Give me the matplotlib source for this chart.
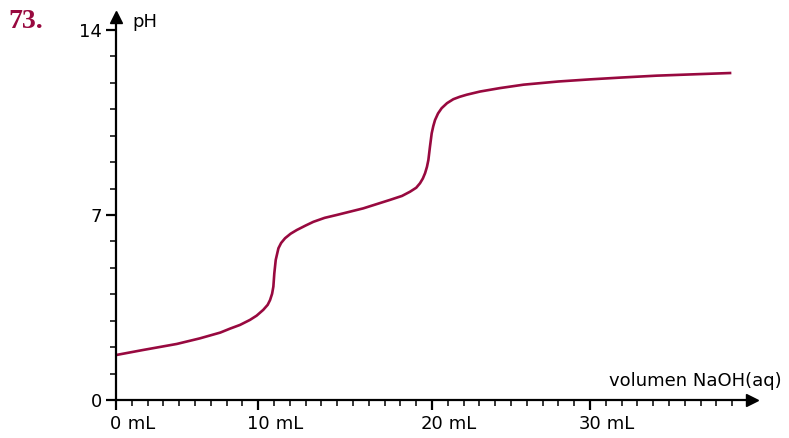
import matplotlib.pyplot as plt
from matplotlib.ticker import FixedLocator

# Curva de valoración: volumen de NaOH añadido (mL) y pH
volumen = [0, 1.7, 3.85, 5.3, 6.6, 7.22, 7.85, 8.48, 8.9, 9.32, 9.6, 9.75,
           9.88, 9.96, 10.02, 10.11, 10.28, 10.45, 10.7, 11.05, 11.44, 12.0,
           12.49, 13.2, 13.97, 15.65, 17.34, 18.1, 18.61, 19.0, 19.24, 19.42,
           19.56, 19.68, 19.77, 19.87, 19.98, 20.08, 20.19, 20.38, 20.61,
           20.95, 21.35, 21.75, 22.2, 23.04, 24.3, 25.8, 28.0, 30.0, 32.0,
           34.2, 36.5, 38.86]
ph = [1.70, 1.89, 2.12, 2.33, 2.55, 2.70, 2.84, 3.03, 3.19, 3.41, 3.60, 3.78,
      4.02, 4.29, 4.79, 5.30, 5.74, 5.94, 6.12, 6.29, 6.43, 6.60,
      6.74, 6.89, 7.00, 7.25, 7.57, 7.72, 7.88, 8.03, 8.20, 8.38,
      8.58, 8.82, 9.08, 9.58, 10.09, 10.36, 10.59, 10.84, 11.04,
      11.23, 11.38, 11.47, 11.55, 11.67, 11.80, 11.93, 12.05, 12.13, 12.20,
      12.27, 12.32, 12.37]

# Marcas de los ejes (tal como aparecen en la figura)
pos_x = [0, 9, 20, 30]
etiquetas_x = ['0', '10', '20', '30']
pos_y = [0, 7, 14]
etiquetas_y = ['0', '7', '14']

color = '#98093f'
plt.rcParams['font.family'] = ['DejaVu Sans']

fig = plt.figure(figsize=(7.89, 4.38), dpi=100)
ax = fig.add_axes([0.147, 0.0868, 0.8061, 0.8744])

ax.plot(volumen, ph, color=color, lw=1.9, solid_joinstyle='round')
ax.set_xlim(0, 40.25)
ax.set_ylim(0, 14.49)

# Ejes con flechas
for s in ['top', 'right']:
    ax.spines[s].set_visible(False)
for s in ['left', 'bottom']:
    ax.spines[s].set_linewidth(1.6)
ax.plot(1, 0, '>', color='black', ms=8, transform=ax.transAxes, clip_on=False)
ax.plot(0, 1, '^', color='black', ms=8, transform=ax.transAxes, clip_on=False)

# Marcas del eje x
ax.set_xticks(pos_x)
ax.set_xticklabels([])
ax.xaxis.set_minor_locator(FixedLocator(range(0, 40)))
ax.tick_params(axis='x', which='major', direction='out', length=7, width=1.6)
ax.tick_params(axis='x', which='minor', direction='out', length=4.5, width=1.1)
for x, t in zip(pos_x, etiquetas_x):
    num = ax.annotate(t, xy=(x, 0), xycoords=('data', 'axes fraction'),
                      xytext=(0, -11), textcoords='offset points',
                      ha='center', va='top', fontsize=13)
    ax.annotate(' mL', xy=(1, 0), xycoords=num, ha='left', va='bottom', fontsize=13)

# Marcas del eje y
ax.set_yticks(pos_y)
ax.set_yticklabels(etiquetas_y)
ax.yaxis.set_minor_locator(FixedLocator(range(0, 15)))
ax.tick_params(axis='y', which='major', direction='out', length=7, width=1.6,
               labelsize=13, pad=3)
ax.tick_params(axis='y', which='minor', direction='out', length=4.5, width=1.1)

# Textos
fig.text(782 / 789, 1 - 381 / 438, 'volumen NaOH(aq)', ha='right', va='center', fontsize=13)
fig.text(132 / 789, 1 - 22 / 438, 'pH', ha='left', va='center', fontsize=13)
fig.text(8 / 789, 1 - 21 / 438, '73.', ha='left', va='center', fontsize=20,
         fontweight='bold', family='Liberation Serif', color=color)

fig.savefig('out.png', dpi=100)
